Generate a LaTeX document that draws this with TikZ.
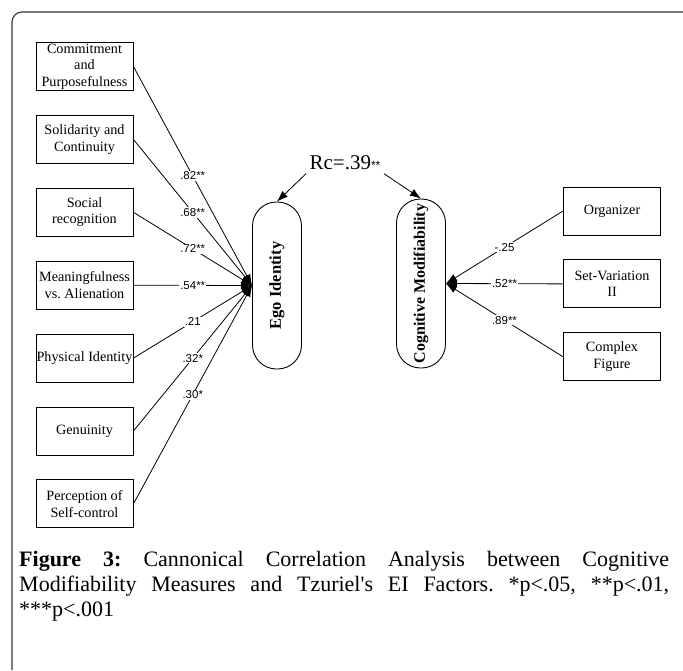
\documentclass[tikz,border=0pt]{standalone}
\usepackage{fontspec}
\setmainfont{Liberation Serif}
\newfontfamily\coeffont{Liberation Sans}
\usepackage{tikz}
\usetikzlibrary{calc,arrows,arrows.meta,positioning}
\tikzset{
  factor/.style={draw, line width=0.9pt, minimum width=97pt, minimum height=48pt, inner sep=0pt, align=center, font=\fontsize{14.2}{16.5}\selectfont},
  latent/.style={draw, line width=0.9pt, rounded corners=24pt, minimum width=49pt, minimum height=167pt, inner sep=0pt, font=\fontsize{16.5}{18}\selectfont\bfseries},
  load/.style={line width=0.8pt, -{Latex[length=11pt,width=8pt]}},
  coef/.style={fill=white, inner sep=1pt, font=\coeffont\fontsize{11.5}{13}\selectfont}
}
\frenchspacing
\begin{document}
\begin{tikzpicture}[x=1pt,y=-1pt]
  \useasboundingbox (0,0) rectangle (683,670);
  % frame
  \draw[line width=1.1pt, black!80, rounded corners=10pt] (12,670) -- (12,12) -- (683,12);

  % EI factors
  \node[factor] (f1) at (84.5,66.5) {Commitment\\and\\Purposefulness};
  \node[factor, below=24pt of f1] (f2) {Solidarity and\\Continuity};
  \node[factor, below=24pt of f2] (f3) {Social\\recognition};
  \node[factor, below=24pt of f3] (f4) {Meaningfulness\\vs. Alienation};
  \node[factor, below=24pt of f4] (f5) {Physical Identity};
  \node[factor, below=24pt of f5] (f6) {Genuinity};
  \node[factor, below=24pt of f6] (f7) {Perception of\\Self-control};

  % latent variables
  \node[latent] (ego) at (277,285.5) {\rotatebox{90}{Ego Identity}};
  \node[latent, minimum height=169pt, font=\fontsize{16}{18}\selectfont\bfseries] (cm) at (421,283.5) {\rotatebox{90}{Cognitive Modifiability}};
  \node (rc) at (345,163) {{\fontsize{21}{24}\selectfont Rc=.39}{\coeffont\fontsize{12}{13}\selectfont **}};

  % cognitive modifiability measures
  \node[factor] (m1) at (612,211) {Organizer};
  \node[factor, below=24pt of m1] (m2) {Set-Variation\\II};
  \node[factor, below=24pt of m2] (m3) {Complex\\Figure};

  \draw[load] (rc.south west) -- (ego.north);
  \draw[load] (rc.south east) -- (cm.north);

  \foreach \f/\c in {f1/.82**, f2/.68**, f3/.72**, f4/.54**, f5/.21, f6/.32*, f7/.30*}
    \draw[load] (\f.east) -- node[coef]{\c} (ego.west);
  \foreach \m/\c in {m1/-.25, m2/.52**, m3/.89**}
    \draw[load] (\m.west) -- node[coef]{\c} (cm.east);

  % caption
  \node[anchor=north west, text width=650pt, align=justify, inner sep=0pt, font=\fontsize{22}{25}\selectfont] (cap) at (19,551)
    {\textbf{Figure 3:} Cannonical Correlation Analysis between Cognitive\linebreak Modifiability Measures and Tzuriel\textquotesingle s EI Factors. *p<.05, **p<.01,\linebreak ***p<.001};
\end{tikzpicture}
\end{document}
